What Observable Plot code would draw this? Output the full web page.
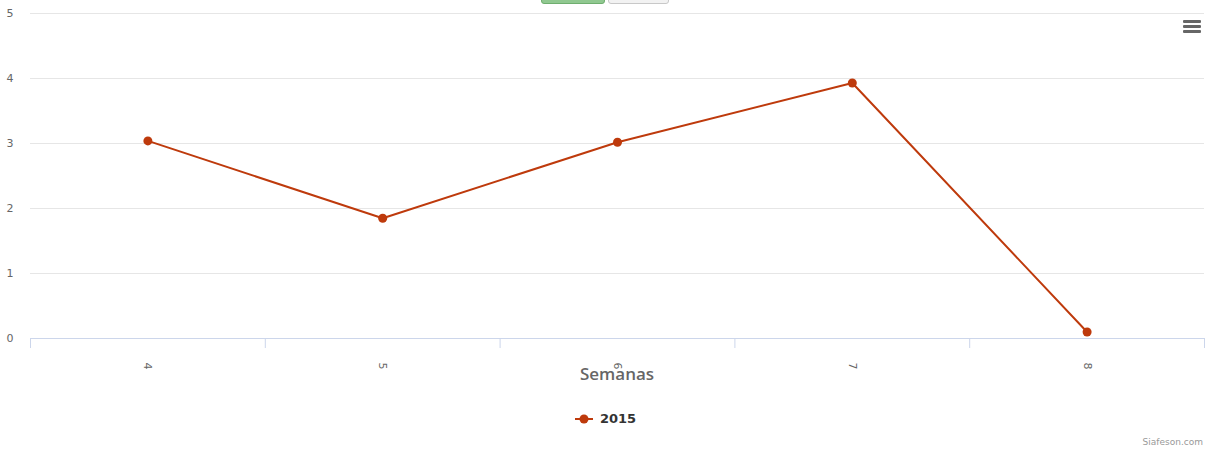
<!DOCTYPE html>
<html><head><meta charset="utf-8">
<script src="https://cdn.jsdelivr.net/npm/d3@7"></script>
<script src="https://cdn.jsdelivr.net/npm/@observablehq/plot@0.6"></script>
<style>
html,body{margin:0;padding:0;background:#fff;}
#wrap{position:relative;width:1209px;height:450px;overflow:hidden;font-family:"DejaVu Sans",sans-serif;}
#chart svg{position:absolute;left:0;top:0;}
.btn{position:absolute;top:-20px;height:22px;border-radius:3px;}
.menu{position:absolute;left:1183px;width:18px;height:3px;background:#666;border-radius:1px;}
#xtitle{position:absolute;top:362px;left:0;width:1234px;text-align:center;font:600 17px "Open Sans",sans-serif;color:#666;}
#legend{position:absolute;top:411px;left:0;width:1209px;display:flex;justify-content:center;align-items:center;font:bold 13px "DejaVu Sans",sans-serif;color:#333;}
#credits{position:absolute;top:437px;right:6px;font:9px "DejaVu Sans",sans-serif;color:#999;}
</style></head>
<body>
<div id="wrap">
  <div id="chart"></div>
  <div class="btn" style="left:541px;width:62px;background:#90c890;border:1px solid #6fae6f;"></div>
  <div class="btn" style="left:608px;width:59px;background:#f2f2f2;border:1px solid #c8c8c8;"></div>
  <div class="menu" style="top:20px"></div>
  <div class="menu" style="top:25px"></div>
  <div class="menu" style="top:30px"></div>
  <div id="xtitle">Semanas</div>
  <div id="legend"><svg width="22" height="12" style="margin-right:5px"><line x1="2" x2="20" y1="6" y2="6" stroke="#be3a0c" stroke-width="2"/><circle cx="11" cy="6" r="4.5" fill="#be3a0c"/></svg><span>2015</span></div>
  <div id="credits">Siafeson.com</div>
</div>
<script>
const semanas = [4, 5, 6, 7, 8];
const valores = [3.04, 1.85, 3.02, 3.93, 0.1];
const yTicks = [0, 1, 2, 3, 4, 5];
const serie = "2015";

const data = semanas.map((s, i) => ({semana: s, valor: valores[i], serie}));
const limites = [semanas[0] - 0.5, ...semanas.map(s => s + 0.5)];
const color = "#be3a0c";

const chart = Plot.plot({
  width: 1209,
  height: 450,
  marginTop: 13,
  marginBottom: 112,
  marginLeft: 30,
  marginRight: 5,
  style: {fontFamily: "DejaVu Sans, sans-serif", fontSize: "11px", background: "transparent"},
  x: {domain: [limites[0], limites[limites.length - 1]]},
  y: {domain: [0, 5]},
  marks: [
    Plot.gridY(yTicks.filter(d => d > 0), {stroke: "#e6e6e6", strokeOpacity: 1}),
    Plot.axisY(yTicks, {tickSize: 0, tickPadding: 17, fill: "#666", label: null, fontSize: 11, tickFormat: d => String(d)}),
    Plot.ruleY([0], {stroke: "#ccd6eb"}),
    Plot.axisX(limites, {tickSize: 10, stroke: "#ccd6eb", strokeOpacity: 1, tickFormat: () => "", label: null}),
    Plot.axisX(semanas, {tickSize: 0, tickPadding: 24, tickRotate: 90, fill: "#666", label: null, fontSize: 11, tickFormat: d => String(d)}),
    Plot.line(data, {x: "semana", y: "valor", stroke: color, strokeWidth: 2}),
    Plot.dot(data, {x: "semana", y: "valor", fill: color, r: 4.5})
  ]
});
document.getElementById("chart").appendChild(chart);
</script>
</body></html>
